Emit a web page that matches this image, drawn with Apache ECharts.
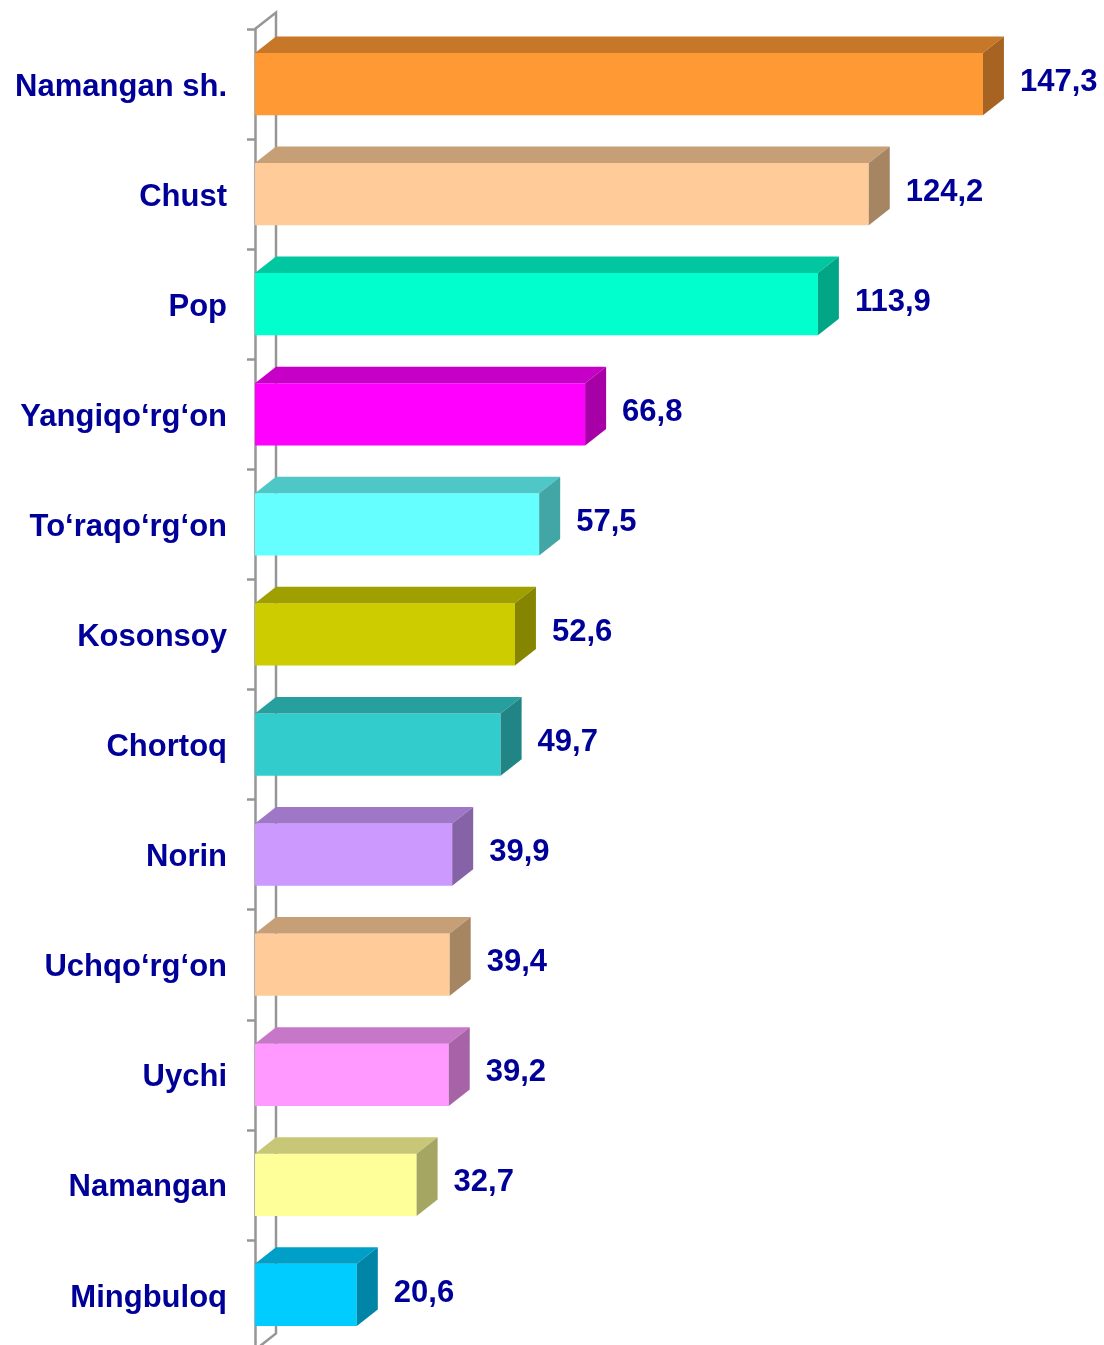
<!DOCTYPE html>
<html>
<head>
<meta charset="utf-8">
<script src="https://cdn.jsdelivr.net/npm/echarts@6/dist/echarts.min.js"></script>
<style>
  html, body { margin: 0; padding: 0; background: #fff; overflow: hidden; }
  #chart { width: 1104px; height: 1351px; }
</style>
</head>
<body>
<div id="chart"></div>
<script>
// Districts, top to bottom
const categories = [
  'Namangan sh.', 'Chust', 'Pop', 'Yangiqo\u2018rg\u2018on', 'To\u2018raqo\u2018rg\u2018on',
  'Kosonsoy', 'Chortoq', 'Norin', 'Uchqo\u2018rg\u2018on', 'Uychi', 'Namangan', 'Mingbuloq'
];
const values = [147.3, 124.2, 113.9, 66.8, 57.5, 52.6, 49.7, 39.9, 39.4, 39.2, 32.7, 20.6];
const barColors = [
  '#FF9933', '#FFCC99', '#00FFCC', '#FF00FF', '#66FFFF', '#CCCC00',
  '#33CCCC', '#CC99FF', '#FFCC99', '#FF99FF', '#FFFF99', '#00CCFF'
];

// 3D depth offset of the bars and the back wall
const DX = 21, DY = -16.5;
const TEXT_COLOR = '#000099';
const LINE_COLOR = '#969696';
const FONT = '"Liberation Sans", Arial, sans-serif';
const FONT_SIZE = 31;

function shade(hex, k) {
  const n = parseInt(hex.slice(1), 16);
  const r = Math.round(((n >> 16) & 255) * k);
  const g = Math.round(((n >> 8) & 255) * k);
  const b = Math.round((n & 255) * k);
  return 'rgb(' + r + ',' + g + ',' + b + ')';
}
function fmt(v) { return v.toFixed(1).replace('.', ','); }

const chart = echarts.init(document.getElementById('chart'), null, { renderer: 'canvas' });

const barData = values.map((v, i) => [v, i]);

chart.setOption({
  animation: false,
  backgroundColor: '#ffffff',
  grid: { left: 255, right: 58.3, top: 29, bottom: 1, containLabel: false, outerBoundsMode: 'none' },
  xAxis: {
    type: 'value', min: 0, max: 160, show: false
  },
  yAxis: {
    type: 'category',
    data: categories,
    inverse: true,
    axisLine: { show: true, lineStyle: { color: LINE_COLOR, width: 2.5 } },
    axisTick: { show: true, length: 8, lineStyle: { color: LINE_COLOR, width: 2.5 } },
    axisLabel: {
      margin: 28,
      formatter: function (name) { return '{c|' + name + '}'; },
      rich: {
        c: {
          color: TEXT_COLOR, fontSize: FONT_SIZE, fontWeight: 'bold', fontFamily: FONT,
          padding: [6, 0, 0, 0]
        }
      }
    },
    splitLine: { show: false }
  },
  series: [
    {
      // back wall of the category axis
      type: 'custom',
      z: 1,
      silent: true,
      data: [[0, 0]],
      renderItem: function (params, api) {
        const cs = params.coordSys;
        const x0 = cs.x, y0 = cs.y, y1 = cs.y + cs.height;
        const style = { stroke: LINE_COLOR, lineWidth: 2.5, fill: null };
        return {
          type: 'group',
          children: [
            { type: 'polyline', shape: { points: [[x0, y0], [x0 + DX, y0 + DY], [x0 + DX, y1 + DY], [x0, y1]] }, style: style }
          ]
        };
      }
    },
    {
      type: 'custom',
      z: 3,
      data: barData,
      encode: { x: 0, y: 1 },
      renderItem: function (params, api) {
        const v = api.value(0);
        const idx = api.value(1);
        const p0 = api.coord([0, idx]);
        const p1 = api.coord([v, idx]);
        const band = api.size([0, 1])[1];
        const h = band * 0.565;
        const x0 = p0[0], x1 = p1[0];
        const yT = p0[1] - h / 2, yB = p0[1] + h / 2;
        const c = barColors[idx];
        return {
          type: 'group',
          children: [
            { type: 'rect', shape: { x: x0, y: yT, width: x1 - x0, height: h }, style: { fill: c } },
            { type: 'polygon', shape: { points: [[x0, yT], [x0 + DX, yT + DY], [x1 + DX, yT + DY], [x1, yT]] }, style: { fill: shade(c, 0.78) } },
            { type: 'polygon', shape: { points: [[x1, yT], [x1 + DX, yT + DY], [x1 + DX, yB + DY], [x1, yB]] }, style: { fill: shade(c, 0.65) } },
            {
              type: 'text',
              style: {
                x: x1 + DX + 16, y: p0[1] - 2,
                text: fmt(v),
                fill: TEXT_COLOR,
                font: 'bold ' + FONT_SIZE + 'px ' + FONT,
                textAlign: 'left', textVerticalAlign: 'middle'
              }
            }
          ]
        };
      }
    }
  ]
});
</script>
</body>
</html>
